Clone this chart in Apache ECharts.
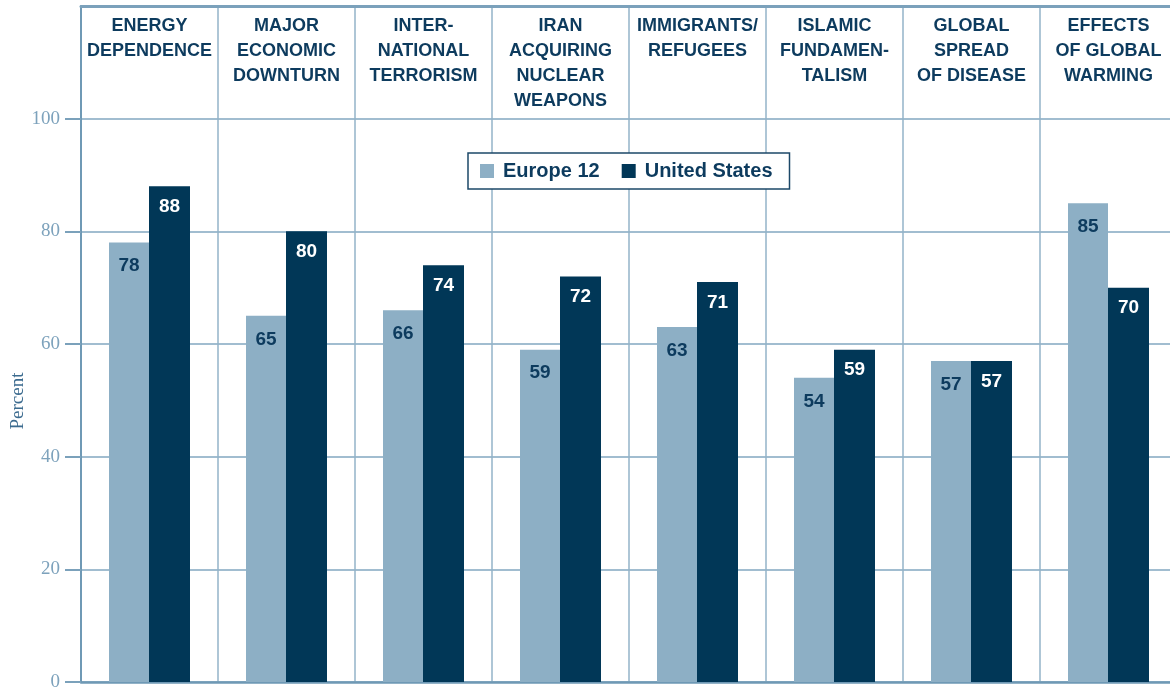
<!DOCTYPE html>
<html>
<head>
<meta charset="utf-8">
<script src="https://cdn.jsdelivr.net/npm/echarts@6/dist/echarts.min.js"></script>
<style>
  html, body { margin: 0; padding: 0; background: #fff; }
  #chart { width: 1170px; height: 690px; }
</style>
</head>
<body>
<div id="chart"></div>
<script>
const categories = [
  'ENERGY\nDEPENDENCE',
  'MAJOR\nECONOMIC\nDOWNTURN',
  'INTER-\nNATIONAL\nTERRORISM',
  'IRAN\nACQUIRING\nNUCLEAR\nWEAPONS',
  'IMMIGRANTS/\nREFUGEES',
  'ISLAMIC\nFUNDAMEN-\nTALISM',
  'GLOBAL\nSPREAD\nOF DISEASE',
  'EFFECTS\nOF GLOBAL\nWARMING'
];
const europeValues = [78, 65, 66, 59, 63, 54, 57, 85];
const usValues = [88, 80, 74, 72, 71, 59, 57, 70];
const yTicks = [0, 20, 40, 60, 80, 100];

const navy = '#013757';
const light = '#8DAFC5';
const lineCol = '#82A7C0';

const chart = echarts.init(document.getElementById('chart'));

chart.setOption({
  animation: false,
  // the last column runs past the right edge of the picture
  grid: { left: 81, top: 6, right: -7, bottom: 8, outerBoundsMode: 'none', containLabel: false },
  legend: {
    data: ['Europe 12', 'United States'],
    left: 468, top: 153,
    orient: 'horizontal',
    itemWidth: 14, itemHeight: 14, itemGap: 22,
    icon: 'rect',
    padding: [8, 17, 8, 12],
    borderColor: '#1C4868', borderWidth: 1.5,
    backgroundColor: '#fff',
    textStyle: {
      fontFamily: 'Liberation Sans', fontWeight: 'bold', fontSize: 20,
      color: '#0D3B5E', padding: [0, 0, 0, 4]
    }
  },
  graphic: [{
    type: 'text', x: 18, y: 401,
    rotation: Math.PI / 2,
    style: {
      text: 'Percent', fill: '#3C6B8F',
      font: '19px "Liberation Serif"',
      align: 'center', verticalAlign: 'middle'
    }
  }],
  xAxis: [{
    type: 'category', data: categories, position: 'bottom',
    axisLine: { lineStyle: { color: '#6F99B5', width: 2.5 } },
    axisTick: { show: false },
    axisLabel: { show: false },
    splitLine: { show: true, lineStyle: { color: '#93B3C8', width: 1.5 } }
  }, {
    type: 'category', data: categories, position: 'top',
    axisLine: { lineStyle: { color: '#7BA1BB', width: 3 } },
    axisTick: { show: false },
    axisLabel: {
      inside: true, margin: 8, verticalAlign: 'top',
      fontFamily: 'Liberation Sans', fontWeight: 'bold', fontSize: 18,
      lineHeight: 25, color: '#0D3B5E', interval: 0
    }
  }],
  yAxis: {
    type: 'value', min: 0, max: 120, interval: 20,
    axisLine: { show: true, lineStyle: { color: '#6F99B5', width: 2 } },
    axisTick: { show: true, length: 16, customValues: yTicks, lineStyle: { color: '#7BA1BB', width: 2 } },
    axisLabel: {
      customValues: yTicks, margin: 21,
      fontFamily: 'Liberation Serif', fontSize: 19, color: '#7DA2BC'
    },
    splitLine: { lineStyle: { color: lineCol, width: 1.5 } }
  },
  series: [{
    name: 'Europe 12', type: 'bar', data: europeValues,
    barWidth: 40, barGap: '0%',
    itemStyle: { color: light },
    label: {
      show: true, position: 'insideTop', distance: 14,
      fontFamily: 'Liberation Sans', fontWeight: 'bold', fontSize: 19, color: '#0D3B5E'
    }
  }, {
    name: 'United States', type: 'bar', data: usValues,
    barWidth: 41,
    itemStyle: { color: navy },
    label: {
      show: true, position: 'insideTop', distance: 11,
      fontFamily: 'Liberation Sans', fontWeight: 'bold', fontSize: 19, color: '#fff'
    }
  }]
});
</script>
</body>
</html>
